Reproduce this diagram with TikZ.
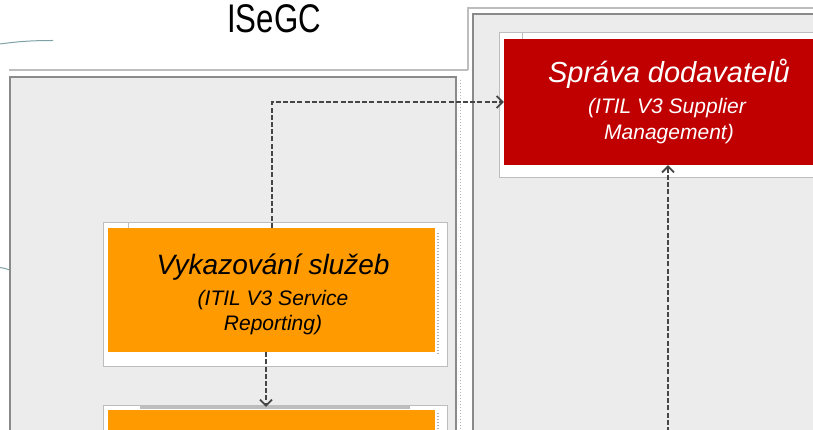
\documentclass[tikz,border=0pt]{standalone}
\usepackage{fontspec}
\setmainfont{Liberation Sans}
\usetikzlibrary{arrows.meta}
\definecolor{bgc}{HTML}{ECECEC}
\definecolor{orng}{HTML}{FF9A00}
\definecolor{rd}{HTML}{C00000}
\definecolor{conc}{HTML}{454545}
\definecolor{arcc}{HTML}{7FA0A5}
\definecolor{frm}{HTML}{BDBDBD}
\definecolor{dfrm}{HTML}{8A8A8A}
\begin{document}
\begin{tikzpicture}[x=1pt,y=-1pt,
  arcline/.style={draw=arcc,line width=1pt},
  lightframe/.style={draw=frm,line width=1.6pt},
  container/.style={fill=bgc,draw=dfrm,line width=1.2pt},
  whiteframe/.style={fill=white,draw=frm,line width=1pt},
  procbox/.style={draw=none,inner sep=0pt,minimum width=327pt},
  conn/.style={draw=conc,line width=1.8pt,dash pattern=on 5pt off 2.2pt,
    -{Straight Barb[length=6pt,width=12pt,line width=1.8pt]}},
  big/.style={anchor=base,font=\fontsize{28}{32}\selectfont\itshape},
  small/.style={anchor=base,font=\fontsize{21}{25}\selectfont\itshape},
  shadowdots/.style={draw=gray!60,line width=1.2pt,dash pattern=on 1pt off 2pt}]
\useasboundingbox (0,0) rectangle (813,430);
\clip (0,0) rectangle (813,430);
\fill[white] (0,0) rectangle (813,430);
% decorative arcs
\draw[arcline] (0,44) .. controls (18,41.5) and (32,40.5) .. (53,40.5);
\draw[arcline] (0,267.5) .. controls (4,268.2) and (7,269) .. (10,270);
% title
\node[anchor=base] (title) at (274,33) {\scalebox{0.78}[1]{\fontsize{40}{42}\selectfont ISeGC}};
% right container
\draw[lightframe] (468,70) -- (468,8) -- (840,8);
\path[container] (473,14) rectangle (840,450);
% left container
\draw[lightframe] (9,70) -- (468,70);
\path[container] (10,77) rectangle (456,450);
\draw[shadowdots] (460.5,80) -- (460.5,430);
% Vykazovani frame
\path[whiteframe] (103,223) rectangle (447,366);
\draw[frm,line width=1pt] (128,223) -- (128,228);
\draw[shadowdots] (438,233) -- (438,355);
\node[procbox,fill=orng,minimum height=124pt] (vyk) at (271.5,290) {};
\node[big] (vykt) at (273,274) {Vykazování služeb};
\node[small] (vyks1) at (273,305) {(ITIL V3 Service};
\node[small] (vyks2) at (273,330) {Reporting)};
% next box
\path[whiteframe] (103,405) rectangle (447,450);
\fill[frm] (140,405) rectangle (410,408.5);
\node[procbox,fill=orng,minimum height=40pt] (nxt) at (271.5,430) {};
\draw[shadowdots] (438,413) -- (438,430);
% Sprava frame
\path[whiteframe] (499,33) rectangle (850,178);
\draw[frm,line width=1pt] (522,33) -- (522,39);
\node[procbox,fill=rd,minimum width=328pt,minimum height=126pt] (spr) at (668,102) {};
\node[big,text=white,font=\fontsize{29}{32}\selectfont\itshape] (sprt) at (669,83) {Správa dodavatelů};
\node[small,text=white] (sprs1) at (667,114) {(ITIL V3 Supplier};
\node[small,text=white] (sprs2) at (669,140) {Management)};
% connectors
\coordinate (bot) at (668,432);
\draw[conn] ([xshift=0.5pt]vyk.north) |- (spr.west);
\draw[conn] ([xshift=-5.5pt]vyk.south) -- ([xshift=-5.5pt,yshift=3pt]nxt.north);
\draw[conn] (bot) -- (spr.south);
\end{tikzpicture}
\end{document}
